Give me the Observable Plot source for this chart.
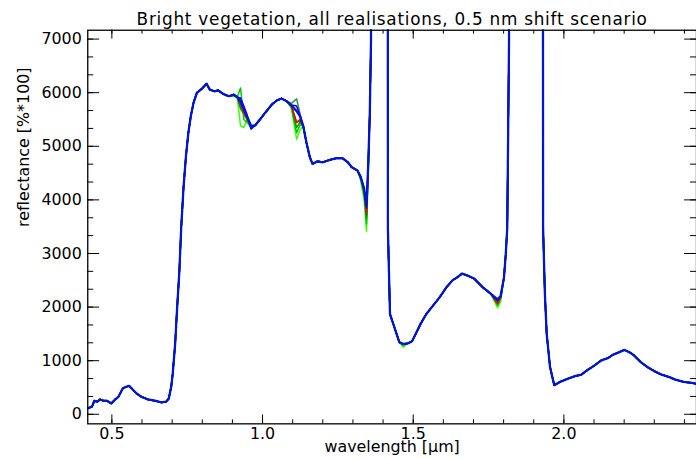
<!DOCTYPE html>
<html>
<head>
<meta charset="utf-8">
<script src="https://cdn.jsdelivr.net/npm/d3@7"></script>
<script src="https://cdn.jsdelivr.net/npm/@observablehq/plot@0.6"></script>
<style>
  html, body { margin: 0; padding: 0; background: white; overflow: hidden; }
</style>
</head>
<body>
<div id="chart"></div>
<script>
// ---------- data ----------
const titleText = "Bright vegetation, all realisations, 0.5 nm shift scenario";
const xLabelText = "wavelength [\u03bcm]";
const yLabelText = "reflectance [%*100]";

const xTickValues = [0.5, 1.0, 1.5, 2.0];
const xMinorValues = [0.5,0.6,0.7,0.8,0.9,1.0,1.1,1.2,1.3,1.4,1.5,1.6,1.7,1.8,1.9,2.0,2.1,2.2,2.3,2.4];
const yTickValues = [0, 1000, 2000, 3000, 4000, 5000, 6000, 7000];
const yMinorValues = [0,333.33,666.67,1000,1333.33,1666.67,2000,2333.33,2666.67,3000,3333.33,3666.67,4000,4333.33,4666.67,5000,5333.33,5666.67,6000,6333.33,6666.67,7000];

// base spectrum (top blue realisation)
const wavelength = [
  0.420,0.434,0.442,0.452,0.461,0.472,0.483,0.498,0.511,0.522,0.536,0.547,0.557,0.566,0.582,0.598,
  0.620,0.642,0.664,0.680,0.689,0.697,0.702,0.710,0.716,0.724,0.730,0.738,0.746,0.754,0.762,0.771,
  0.782,0.798,0.814,0.825,0.840,0.853,0.869,0.888,0.905,0.916,0.927,0.938,0.948,0.962,0.976,0.992,
  1.009,1.031,1.047,1.063,1.080,1.096,1.113,1.124,1.135,1.146,1.157,1.166,1.182,1.200,1.222,1.244,
  1.266,1.283,1.296,1.315,1.326,1.337,1.345,1.351,1.356,1.360,1.364,1.380,1.400,1.414,1.416,1.423,
  1.434,1.445,1.454,1.467,1.483,1.496,1.508,1.524,1.543,1.565,1.587,1.609,1.631,1.647,1.662,1.680,
  1.702,1.730,1.757,1.780,1.790,1.801,1.807,1.812,1.818,1.822,1.850,1.900,1.927,1.931,1.937,1.943,
  1.954,1.968,1.987,2.014,2.036,2.058,2.080,2.102,2.124,2.146,2.162,2.184,2.201,2.217,2.233,2.255,
  2.277,2.299,2.321,2.348,2.370,2.398,2.420,2.440
];
const reflectance = [
  111,142,253,235,277,253,253,203,277,327,481,512,530,481,388,327,
  277,253,222,235,296,512,758,1312,1930,2669,3470,4250,4824,5257,5564,5811,
  5996,6070,6168,6057,6026,6044,5978,5934,5965,5915,5841,5688,5564,5379,5392,5503,
  5627,5780,5854,5891,5841,5761,5656,5564,5379,5060,4795,4671,4720,4702,4745,4776,
  4776,4702,4610,4547,4425,4209,3900,4702,5627,7000,40000,40000,40000,40000,3470,1867,
  1682,1497,1344,1312,1325,1362,1497,1682,1867,2022,2176,2360,2503,2558,2625,2588,
  2532,2373,2250,2144,2207,2545,2976,3470,7000,40000,40000,40000,40000,3470,2237,1497,
  882,543,604,665,710,739,832,913,1006,1048,1109,1159,1201,1159,1098,974,
  882,808,747,697,647,604,590,570
];

// wavelengths where the other realisations differ from the base spectrum
const featureWl = [0.905,0.927,0.938,0.948,0.962,1.096,1.113,1.124,1.326,1.337,1.345,1.351,1.467,1.780,1.790];
const limeSeries   = [5930,5380,5350,5500,5330,5700,5133,5300,4350,4000,3410,4500,1250,1990,2100];
const greenSeries  = [5950,6089,5500,5450,5350,5730,5250,5400,4380,4100,3550,4600,1280,2030,2150];
const midSeries    = [5960,5700,5600,5500,5360,5740,5350,5450,4400,4150,3650,4650,1300,2060,2170];
const darkSeries   = [5960,5750,5650,5520,5370,5750,5450,5480,4410,4170,3700,4680,1305,2080,2180];
const tealSeries   = [5965,5900,5700,5560,5380,5800,5885,5620,4420,4200,3800,4700,1310,2100,2190];
const redSeries    = [5965,5800,5627,5530,5370,5750,5441,5500,4415,4180,3750,4690,1310,2070,2180];
const blue2Series  = [5965,5900,5750,5600,5320,5770,5750,5580,4425,4209,3850,4702,1312,2120,2200];

const seriesNames = ["lime","green","mid","dark","teal","red","blue2"];
const seriesValues = [limeSeries, greenSeries, midSeries, darkSeries, tealSeries, redSeries, blue2Series];

// ---------- styles ----------
const seriesColors = ["#3cff00","#00c800","#00a000","#007a1e","#3a8c5c","#ff0000","#0000ff"];
const mainBlue = "#0014d4";

// ---------- build table ----------
const rows = [];
seriesNames.forEach((name, si) => {
  wavelength.forEach((w, i) => {
    const fi = featureWl.indexOf(w);
    rows.push({series: name, wl: w, v: fi >= 0 ? seriesValues[si][fi] : reflectance[i]});
  });
});
const baseRows = wavelength.map((w, i) => ({wl: w, v: reflectance[i]}));

const W = 702, H = 459, mL = 88, mR = 0, mT = 30, mB = 32;
const fw = W - mL - mR, fh = H - mT - mB;

const chart = Plot.plot({
  width: W, height: H,
  marginLeft: mL, marginRight: mR, marginTop: mT, marginBottom: mB,
  x: {domain: [0.42, 2.44]},
  y: {domain: [-178, 7165]},
  color: {domain: seriesNames, range: seriesColors},
  style: {fontFamily: "DejaVu Sans", fontSize: "16px", color: "black", background: "white"},
  marks: [
    Plot.line(rows, {x: "wl", y: "v", z: "series", stroke: "series", strokeWidth: 1.5, clip: true}),
    Plot.line(baseRows, {x: "wl", y: "v", stroke: mainBlue, strokeWidth: 2.3, clip: true}),
    Plot.frame({stroke: "black", strokeWidth: 1.3}),
    // inward ticks: bottom
    Plot.tickX(xMinorValues, {x: d => d, insetTop: fh - 4, stroke: "black"}),
    Plot.tickX(xTickValues, {x: d => d, insetTop: fh - 9, stroke: "black"}),
    // top
    Plot.tickX(xMinorValues, {x: d => d, insetBottom: fh - 4, stroke: "black"}),
    Plot.tickX(xTickValues, {x: d => d, insetBottom: fh - 9, stroke: "black"}),
    // left
    Plot.tickY(yMinorValues, {y: d => d, insetRight: fw - 6, stroke: "black"}),
    Plot.tickY(yTickValues, {y: d => d, insetRight: fw - 12, stroke: "black"}),
    // right
    Plot.tickY(yMinorValues, {y: d => d, insetLeft: fw - 6, stroke: "black"}),
    Plot.tickY(yTickValues, {y: d => d, insetLeft: fw - 12, stroke: "black"}),
    Plot.axisX(xTickValues, {tickSize: 0, tickPadding: 4, tickFormat: d3.format(".1f"), label: null}),
    Plot.axisY(yTickValues, {tickSize: 0, tickPadding: 6, tickFormat: d => String(d), label: null}),
    Plot.text([titleText], {frameAnchor: "top", dy: -5, lineAnchor: "bottom", fill: "black", fontSize: 17}),
    Plot.text([xLabelText], {frameAnchor: "bottom", dy: 28, lineAnchor: "bottom", fill: "black"}),
    Plot.text([yLabelText], {frameAnchor: "left", dx: -59.5, rotate: -90, lineAnchor: "bottom", fill: "black"})
  ]
});
// widen the title's letter spacing like the reference's plotting font
d3.select(chart).selectAll("text").filter(function() { return this.textContent === titleText; })
  .style("letter-spacing", "0.75px");
document.getElementById("chart").appendChild(chart);
</script>
</body>
</html>
